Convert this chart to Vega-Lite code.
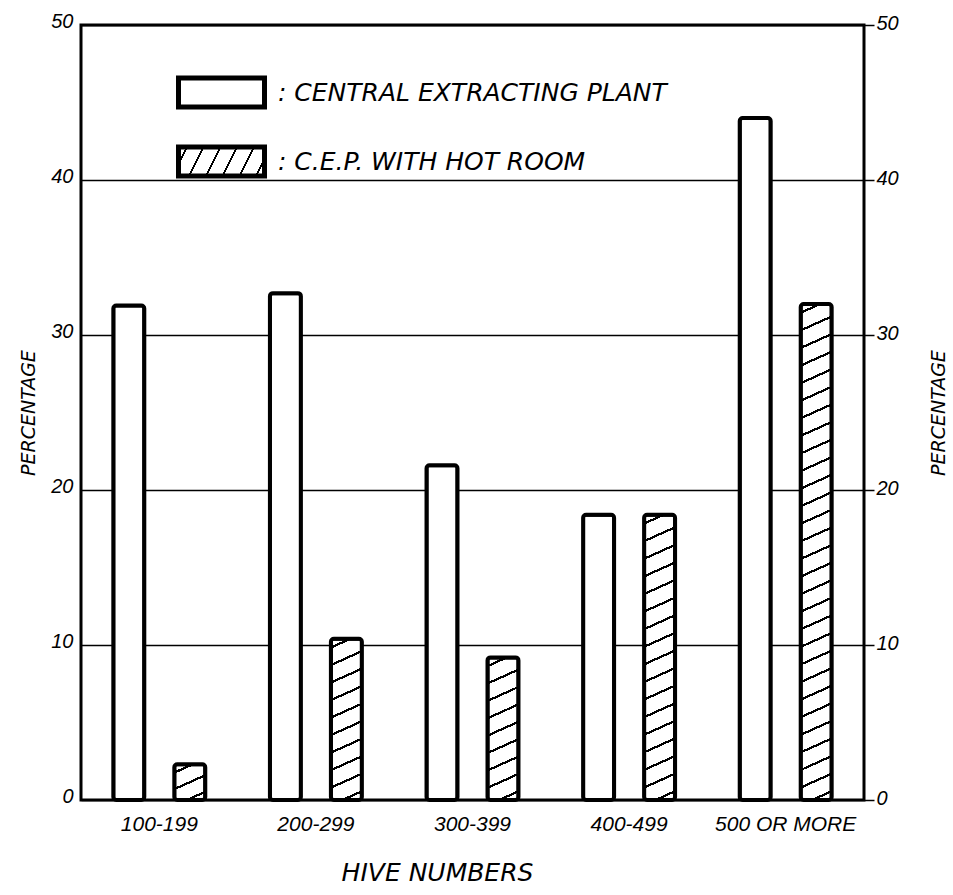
{
  "$schema": "https://vega.github.io/schema/vega-lite/v6.json",
  "width": 783,
  "height": 775,
  "autosize": {"type": "none"},
  "padding": {"left": 81, "top": 25, "right": 89, "bottom": 95},
  "background": "white",
  "config": {
    "view": {"stroke": "black", "strokeWidth": 3},
    "font": "Liberation Sans",
    "axis": {"labelFont": "Liberation Sans", "labelFontStyle": "italic", "labelColor": "black", "titleFont": "DejaVu Sans", "titleFontStyle": "italic", "titleFontWeight": "normal", "titleColor": "black"}
  },
  "data": {
    "values": [
      {"hives": "100-199", "series": "Central Extracting Plant", "value": 31.9},
      {"hives": "100-199", "series": "C.E.P. with Hot Room", "value": 2.3},
      {"hives": "200-299", "series": "Central Extracting Plant", "value": 32.7},
      {"hives": "200-299", "series": "C.E.P. with Hot Room", "value": 10.4},
      {"hives": "300-399", "series": "Central Extracting Plant", "value": 21.6},
      {"hives": "300-399", "series": "C.E.P. with Hot Room", "value": 9.2},
      {"hives": "400-499", "series": "Central Extracting Plant", "value": 18.4},
      {"hives": "400-499", "series": "C.E.P. with Hot Room", "value": 18.4},
      {"hives": "500 OR MORE", "series": "Central Extracting Plant", "value": 44.0},
      {"hives": "500 OR MORE", "series": "C.E.P. with Hot Room", "value": 32.0}
    ]
  },
  "encoding": {
    "x": {
      "field": "hives", "type": "nominal",
      "scale": {"paddingInner": 0, "paddingOuter": 0},
      "axis": {"title": "HIVE   NUMBERS", "labelAngle": 0, "domain": false, "ticks": false, "labelFontSize": 21, "labelPadding": 13, "titleFontSize": 25, "titlePadding": 26, "titleX": 356}
    },
    "xOffset": {
      "field": "series", "type": "nominal",
      "scale": {"domain": ["Central Extracting Plant", "C.E.P. with Hot Room"], "paddingInner": 0.492, "paddingOuter": 0.53}
    }
  },
  "layer": [
    {
      "mark": {"type": "bar", "stroke": "black", "strokeWidth": 4, "cornerRadius": 3},
      "encoding": {
        "y": {
          "field": "value", "type": "quantitative",
          "scale": {"domain": [0, 50], "nice": false},
          "axis": {"orient": "left", "values": [0, 10, 20, 30, 40, 50], "grid": true, "gridColor": "black", "gridWidth": 1.5, "gridOpacity": 1, "domain": false, "ticks": false, "labelFontSize": 20, "labelPadding": 8, "labelOffset": -4, "title": "PERCENTAGE", "titleFontSize": 19, "titlePadding": 12}
        },
        "fill": {
          "field": "series", "type": "nominal",
          "scale": {
            "domain": ["Central Extracting Plant", "C.E.P. with Hot Room"],
            "range": ["white", {"expr": "{gradient: 'linear', x1: 0, y1: 0, x2: 1.1363, y2: 0.1916, stops: [{offset: 0, color: 'white'}, {offset: 0.0722, color: 'white'}, {offset: 0.0722, color: 'black'}, {offset: 0.0944, color: 'black'}, {offset: 0.0944, color: 'white'}, {offset: 0.2389, color: 'white'}, {offset: 0.2389, color: 'black'}, {offset: 0.2611, color: 'black'}, {offset: 0.2611, color: 'white'}, {offset: 0.4056, color: 'white'}, {offset: 0.4056, color: 'black'}, {offset: 0.4278, color: 'black'}, {offset: 0.4278, color: 'white'}, {offset: 0.5722, color: 'white'}, {offset: 0.5722, color: 'black'}, {offset: 0.5944, color: 'black'}, {offset: 0.5944, color: 'white'}, {offset: 0.7389, color: 'white'}, {offset: 0.7389, color: 'black'}, {offset: 0.7611, color: 'black'}, {offset: 0.7611, color: 'white'}, {offset: 0.9056, color: 'white'}, {offset: 0.9056, color: 'black'}, {offset: 0.9278, color: 'black'}, {offset: 0.9278, color: 'white'}, {offset: 1, color: 'white'}]}"}]
          },
          "legend": {
            "orient": "none", "legendX": 127, "legendY": 54, "title": null, "padding": 0,
            "symbolType": "M-4,-1.3488H4V1.3488H-4Z", "symbolSize": 462.25,
            "symbolStrokeColor": "black", "symbolStrokeWidth": 5, "symbolOpacity": 1,
            "labelFont": "DejaVu Sans", "labelFontStyle": "italic", "labelFontSize": 25, "labelColor": "black",
            "labelOffset": 43, "labelLimit": 700, "rowPadding": 20,
            "labelExpr": "': ' + upper(datum.label)"
          },
          "condition": [
            {"test": "datum.series === 'C.E.P. with Hot Room' && datum.hives === '100-199'",
             "value": {"gradient": "linear", "x1": 0, "y1": 0, "x2": 0.4721, "y2": 1.2066, "stops": [
              {"offset": 0, "color": "white"},
              {"offset": 0.1417, "color": "white"}, {"offset": 0.1417, "color": "black"}, {"offset": 0.1917, "color": "black"}, {"offset": 0.1917, "color": "white"},
              {"offset": 0.475, "color": "white"}, {"offset": 0.475, "color": "black"}, {"offset": 0.525, "color": "black"}, {"offset": 0.525, "color": "white"},
              {"offset": 0.8083, "color": "white"}, {"offset": 0.8083, "color": "black"}, {"offset": 0.8583, "color": "black"}, {"offset": 0.8583, "color": "white"},
              {"offset": 1, "color": "white"}
             ]}},
            {"test": "datum.series === 'C.E.P. with Hot Room' && datum.hives === '200-299'",
             "value": {"gradient": "linear", "x1": 0, "y1": 0, "x2": 0.0933, "y2": 1.0785, "stops": [
              {"offset": 0, "color": "white"},
              {"offset": 0.043, "color": "white"}, {"offset": 0.043, "color": "black"}, {"offset": 0.057, "color": "black"}, {"offset": 0.057, "color": "white"},
              {"offset": 0.143, "color": "white"}, {"offset": 0.143, "color": "black"}, {"offset": 0.157, "color": "black"}, {"offset": 0.157, "color": "white"},
              {"offset": 0.243, "color": "white"}, {"offset": 0.243, "color": "black"}, {"offset": 0.257, "color": "black"}, {"offset": 0.257, "color": "white"},
              {"offset": 0.343, "color": "white"}, {"offset": 0.343, "color": "black"}, {"offset": 0.357, "color": "black"}, {"offset": 0.357, "color": "white"},
              {"offset": 0.443, "color": "white"}, {"offset": 0.443, "color": "black"}, {"offset": 0.457, "color": "black"}, {"offset": 0.457, "color": "white"},
              {"offset": 0.543, "color": "white"}, {"offset": 0.543, "color": "black"}, {"offset": 0.557, "color": "black"}, {"offset": 0.557, "color": "white"},
              {"offset": 0.643, "color": "white"}, {"offset": 0.643, "color": "black"}, {"offset": 0.657, "color": "black"}, {"offset": 0.657, "color": "white"},
              {"offset": 0.743, "color": "white"}, {"offset": 0.743, "color": "black"}, {"offset": 0.757, "color": "black"}, {"offset": 0.757, "color": "white"},
              {"offset": 0.843, "color": "white"}, {"offset": 0.843, "color": "black"}, {"offset": 0.857, "color": "black"}, {"offset": 0.857, "color": "white"},
              {"offset": 0.943, "color": "white"}, {"offset": 0.943, "color": "black"}, {"offset": 0.957, "color": "black"}, {"offset": 0.957, "color": "white"},
              {"offset": 1, "color": "white"}
             ]}},
            {"test": "datum.series === 'C.E.P. with Hot Room' && datum.hives === '300-399'",
             "value": {"gradient": "linear", "x1": 0, "y1": 0, "x2": 0.1064, "y2": 1.0874, "stops": [
              {"offset": 0, "color": "white"},
              {"offset": 0.0478, "color": "white"}, {"offset": 0.0478, "color": "black"}, {"offset": 0.0634, "color": "black"}, {"offset": 0.0634, "color": "white"},
              {"offset": 0.1589, "color": "white"}, {"offset": 0.1589, "color": "black"}, {"offset": 0.1745, "color": "black"}, {"offset": 0.1745, "color": "white"},
              {"offset": 0.27, "color": "white"}, {"offset": 0.27, "color": "black"}, {"offset": 0.2856, "color": "black"}, {"offset": 0.2856, "color": "white"},
              {"offset": 0.3811, "color": "white"}, {"offset": 0.3811, "color": "black"}, {"offset": 0.3967, "color": "black"}, {"offset": 0.3967, "color": "white"},
              {"offset": 0.4922, "color": "white"}, {"offset": 0.4922, "color": "black"}, {"offset": 0.5078, "color": "black"}, {"offset": 0.5078, "color": "white"},
              {"offset": 0.6033, "color": "white"}, {"offset": 0.6033, "color": "black"}, {"offset": 0.6189, "color": "black"}, {"offset": 0.6189, "color": "white"},
              {"offset": 0.7144, "color": "white"}, {"offset": 0.7144, "color": "black"}, {"offset": 0.73, "color": "black"}, {"offset": 0.73, "color": "white"},
              {"offset": 0.8255, "color": "white"}, {"offset": 0.8255, "color": "black"}, {"offset": 0.8411, "color": "black"}, {"offset": 0.8411, "color": "white"},
              {"offset": 0.9366, "color": "white"}, {"offset": 0.9366, "color": "black"}, {"offset": 0.9522, "color": "black"}, {"offset": 0.9522, "color": "white"},
              {"offset": 1, "color": "white"}
             ]}},
            {"test": "datum.series === 'C.E.P. with Hot Room' && datum.hives === '400-499'",
             "value": {"gradient": "linear", "x1": 0, "y1": 0, "x2": 0.0512, "y2": 1.0464, "stops": [
              {"offset": 0, "color": "white"},
              {"offset": 0.0253, "color": "white"}, {"offset": 0.0253, "color": "black"}, {"offset": 0.0335, "color": "black"}, {"offset": 0.0335, "color": "white"},
              {"offset": 0.0841, "color": "white"}, {"offset": 0.0841, "color": "black"}, {"offset": 0.0923, "color": "black"}, {"offset": 0.0923, "color": "white"},
              {"offset": 0.1429, "color": "white"}, {"offset": 0.1429, "color": "black"}, {"offset": 0.1511, "color": "black"}, {"offset": 0.1511, "color": "white"},
              {"offset": 0.2018, "color": "white"}, {"offset": 0.2018, "color": "black"}, {"offset": 0.21, "color": "black"}, {"offset": 0.21, "color": "white"},
              {"offset": 0.2606, "color": "white"}, {"offset": 0.2606, "color": "black"}, {"offset": 0.2688, "color": "black"}, {"offset": 0.2688, "color": "white"},
              {"offset": 0.3194, "color": "white"}, {"offset": 0.3194, "color": "black"}, {"offset": 0.3276, "color": "black"}, {"offset": 0.3276, "color": "white"},
              {"offset": 0.3782, "color": "white"}, {"offset": 0.3782, "color": "black"}, {"offset": 0.3864, "color": "black"}, {"offset": 0.3864, "color": "white"},
              {"offset": 0.4371, "color": "white"}, {"offset": 0.4371, "color": "black"}, {"offset": 0.4453, "color": "black"}, {"offset": 0.4453, "color": "white"},
              {"offset": 0.4959, "color": "white"}, {"offset": 0.4959, "color": "black"}, {"offset": 0.5041, "color": "black"}, {"offset": 0.5041, "color": "white"},
              {"offset": 0.5547, "color": "white"}, {"offset": 0.5547, "color": "black"}, {"offset": 0.5629, "color": "black"}, {"offset": 0.5629, "color": "white"},
              {"offset": 0.6135, "color": "white"}, {"offset": 0.6135, "color": "black"}, {"offset": 0.6217, "color": "black"}, {"offset": 0.6217, "color": "white"},
              {"offset": 0.6724, "color": "white"}, {"offset": 0.6724, "color": "black"}, {"offset": 0.6806, "color": "black"}, {"offset": 0.6806, "color": "white"},
              {"offset": 0.7312, "color": "white"}, {"offset": 0.7312, "color": "black"}, {"offset": 0.7394, "color": "black"}, {"offset": 0.7394, "color": "white"},
              {"offset": 0.79, "color": "white"}, {"offset": 0.79, "color": "black"}, {"offset": 0.7982, "color": "black"}, {"offset": 0.7982, "color": "white"},
              {"offset": 0.8488, "color": "white"}, {"offset": 0.8488, "color": "black"}, {"offset": 0.857, "color": "black"}, {"offset": 0.857, "color": "white"},
              {"offset": 0.9077, "color": "white"}, {"offset": 0.9077, "color": "black"}, {"offset": 0.9159, "color": "black"}, {"offset": 0.9159, "color": "white"},
              {"offset": 0.9665, "color": "white"}, {"offset": 0.9665, "color": "black"}, {"offset": 0.9747, "color": "black"}, {"offset": 0.9747, "color": "white"},
              {"offset": 1, "color": "white"}
             ]}},
            {"test": "datum.series === 'C.E.P. with Hot Room' && datum.hives === '500 OR MORE'",
             "value": {"gradient": "linear", "x1": 0, "y1": 0, "x2": 0.0289, "y2": 1.0273, "stops": [
              {"offset": 0, "color": "white"},
              {"offset": 0.0148, "color": "white"}, {"offset": 0.0148, "color": "black"}, {"offset": 0.0196, "color": "black"}, {"offset": 0.0196, "color": "white"},
              {"offset": 0.0493, "color": "white"}, {"offset": 0.0493, "color": "black"}, {"offset": 0.0541, "color": "black"}, {"offset": 0.0541, "color": "white"},
              {"offset": 0.0838, "color": "white"}, {"offset": 0.0838, "color": "black"}, {"offset": 0.0886, "color": "black"}, {"offset": 0.0886, "color": "white"},
              {"offset": 0.1183, "color": "white"}, {"offset": 0.1183, "color": "black"}, {"offset": 0.1231, "color": "black"}, {"offset": 0.1231, "color": "white"},
              {"offset": 0.1528, "color": "white"}, {"offset": 0.1528, "color": "black"}, {"offset": 0.1576, "color": "black"}, {"offset": 0.1576, "color": "white"},
              {"offset": 0.1873, "color": "white"}, {"offset": 0.1873, "color": "black"}, {"offset": 0.1921, "color": "black"}, {"offset": 0.1921, "color": "white"},
              {"offset": 0.2217, "color": "white"}, {"offset": 0.2217, "color": "black"}, {"offset": 0.2265, "color": "black"}, {"offset": 0.2265, "color": "white"},
              {"offset": 0.2562, "color": "white"}, {"offset": 0.2562, "color": "black"}, {"offset": 0.261, "color": "black"}, {"offset": 0.261, "color": "white"},
              {"offset": 0.2907, "color": "white"}, {"offset": 0.2907, "color": "black"}, {"offset": 0.2955, "color": "black"}, {"offset": 0.2955, "color": "white"},
              {"offset": 0.3252, "color": "white"}, {"offset": 0.3252, "color": "black"}, {"offset": 0.33, "color": "black"}, {"offset": 0.33, "color": "white"},
              {"offset": 0.3597, "color": "white"}, {"offset": 0.3597, "color": "black"}, {"offset": 0.3645, "color": "black"}, {"offset": 0.3645, "color": "white"},
              {"offset": 0.3942, "color": "white"}, {"offset": 0.3942, "color": "black"}, {"offset": 0.399, "color": "black"}, {"offset": 0.399, "color": "white"},
              {"offset": 0.4286, "color": "white"}, {"offset": 0.4286, "color": "black"}, {"offset": 0.4334, "color": "black"}, {"offset": 0.4334, "color": "white"},
              {"offset": 0.4631, "color": "white"}, {"offset": 0.4631, "color": "black"}, {"offset": 0.4679, "color": "black"}, {"offset": 0.4679, "color": "white"},
              {"offset": 0.4976, "color": "white"}, {"offset": 0.4976, "color": "black"}, {"offset": 0.5024, "color": "black"}, {"offset": 0.5024, "color": "white"},
              {"offset": 0.5321, "color": "white"}, {"offset": 0.5321, "color": "black"}, {"offset": 0.5369, "color": "black"}, {"offset": 0.5369, "color": "white"},
              {"offset": 0.5666, "color": "white"}, {"offset": 0.5666, "color": "black"}, {"offset": 0.5714, "color": "black"}, {"offset": 0.5714, "color": "white"},
              {"offset": 0.6011, "color": "white"}, {"offset": 0.6011, "color": "black"}, {"offset": 0.6059, "color": "black"}, {"offset": 0.6059, "color": "white"},
              {"offset": 0.6355, "color": "white"}, {"offset": 0.6355, "color": "black"}, {"offset": 0.6403, "color": "black"}, {"offset": 0.6403, "color": "white"},
              {"offset": 0.67, "color": "white"}, {"offset": 0.67, "color": "black"}, {"offset": 0.6748, "color": "black"}, {"offset": 0.6748, "color": "white"},
              {"offset": 0.7045, "color": "white"}, {"offset": 0.7045, "color": "black"}, {"offset": 0.7093, "color": "black"}, {"offset": 0.7093, "color": "white"},
              {"offset": 0.739, "color": "white"}, {"offset": 0.739, "color": "black"}, {"offset": 0.7438, "color": "black"}, {"offset": 0.7438, "color": "white"},
              {"offset": 0.7735, "color": "white"}, {"offset": 0.7735, "color": "black"}, {"offset": 0.7783, "color": "black"}, {"offset": 0.7783, "color": "white"},
              {"offset": 0.8079, "color": "white"}, {"offset": 0.8079, "color": "black"}, {"offset": 0.8127, "color": "black"}, {"offset": 0.8127, "color": "white"},
              {"offset": 0.8424, "color": "white"}, {"offset": 0.8424, "color": "black"}, {"offset": 0.8472, "color": "black"}, {"offset": 0.8472, "color": "white"},
              {"offset": 0.8769, "color": "white"}, {"offset": 0.8769, "color": "black"}, {"offset": 0.8817, "color": "black"}, {"offset": 0.8817, "color": "white"},
              {"offset": 0.9114, "color": "white"}, {"offset": 0.9114, "color": "black"}, {"offset": 0.9162, "color": "black"}, {"offset": 0.9162, "color": "white"},
              {"offset": 0.9459, "color": "white"}, {"offset": 0.9459, "color": "black"}, {"offset": 0.9507, "color": "black"}, {"offset": 0.9507, "color": "white"},
              {"offset": 0.9804, "color": "white"}, {"offset": 0.9804, "color": "black"}, {"offset": 0.9852, "color": "black"}, {"offset": 0.9852, "color": "white"},
              {"offset": 1, "color": "white"}
             ]}}
          ]
        }
      }
    },
    {
      "mark": {"type": "bar", "fillOpacity": 0, "strokeOpacity": 0},
      "encoding": {
        "y": {
          "field": "value", "type": "quantitative",
          "axis": {"orient": "right", "values": [0, 10, 20, 30, 40, 50], "grid": false, "domain": false, "ticks": true, "tickSize": 10, "tickColor": "black", "tickWidth": 1.5, "labelFontSize": 20, "labelPadding": 2, "labelOffset": -2, "title": "PERCENTAGE", "titleAngle": 270, "titleFontSize": 19, "titlePadding": 50}
        }
      }
    }
  ],
  "resolve": {"scale": {"y": "shared"}, "axis": {"y": "independent"}}
}
